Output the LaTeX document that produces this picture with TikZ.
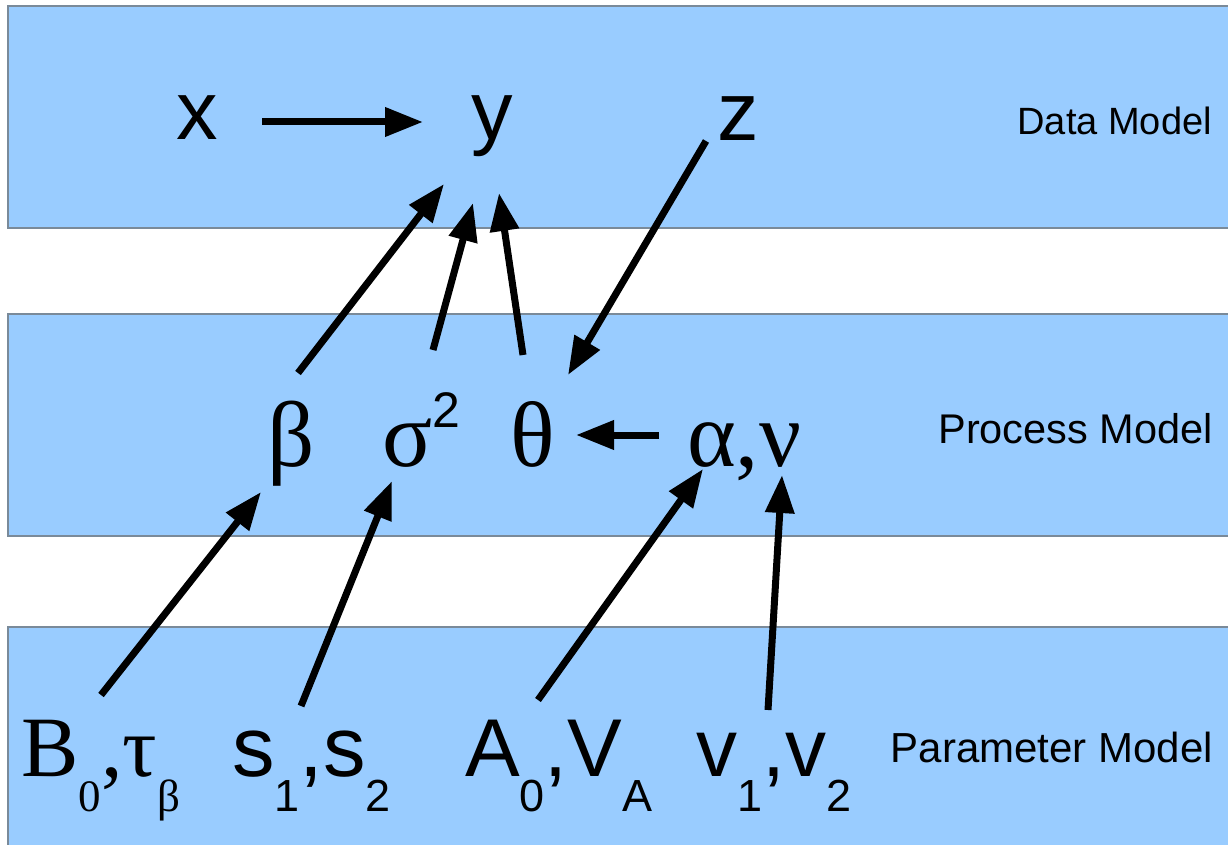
\documentclass[tikz,border=0pt]{standalone}
\usepackage{fontspec}
\setmainfont{Liberation Serif}
\setsansfont{Liberation Sans}
\usetikzlibrary{arrows.meta}
\definecolor{bandblue}{HTML}{99CCFF}
\definecolor{bandline}{HTML}{7A8A99}
\newcommand{\lowsub}[1]{\raisebox{-35pt}{\fontsize{45}{50}\selectfont #1}}
\newcommand{\hisup}[1]{\raisebox{39pt}{\fontsize{50}{56}\selectfont\sffamily #1}}
\tikzset{
  bandbox/.style={fill=bandblue, draw=bandline, line width=1.2pt},
  sanstxt/.style={font=\sffamily\fontsize{83}{90}\selectfont, inner sep=0pt, anchor=base},
  greektxt/.style={font=\rmfamily\fontsize{93}{100}\selectfont, inner sep=0pt, anchor=base},
  paramtxt/.style={font=\fontsize{84}{90}\selectfont, inner sep=0pt, anchor=base west},
  lbl/.style={font=\sffamily\fontsize{41.5}{48}\selectfont, inner sep=0pt, anchor=base east},
  arr/.style={line width=7pt, -{Triangle[length=38pt,width=28pt]}},
}
\begin{document}
\begin{tikzpicture}[x=1pt,y=-1pt]
\useasboundingbox (0,0) rectangle (1228,845);
\clip (0,0) rectangle (1228,845);
% bands
\path[bandbox] (8,6) rectangle (1240,228);
\path[bandbox] (8,314) rectangle (1240,536);
\path[bandbox] (8,627) rectangle (1240,860);
% labels
\node[lbl, font=\sffamily\fontsize{38}{44}\selectfont] (data) at (1212,135) {Data Model};
\node[lbl] (process) at (1213,443) {Process Model};
\node[lbl, font=\sffamily\fontsize{42}{48}\selectfont] (param) at (1213,762) {Parameter Model};
% data row
\node[sanstxt] (x) at (197,140) {x};
\node[sanstxt] (y) at (492,140) {y};
\node[sanstxt] (z) at (738,141) {z};
% process row
\node[greektxt] (beta) at (291,466) {β};
\node[greektxt, anchor=base west] (sigma) at (382,466) {σ\hisup{2}};
\node[greektxt] (theta) at (533,466) {θ};
\node[greektxt, anchor=base west] (alnu) at (687,466) {α,ν};
% parameter row
\node[paramtxt, font=\rmfamily\fontsize{86}{90}\selectfont] (B) at (21,776) {B\lowsub{0},τ\lowsub{β}};
\node[paramtxt, font=\sffamily\fontsize{85}{90}\selectfont] (s) at (232,776) {s\lowsub{1},s\lowsub{2}};
\node[paramtxt, font=\sffamily\fontsize{82}{90}\selectfont] (A) at (465,776) {A\lowsub{0},V\lowsub{A}};
\node[paramtxt, font=\sffamily\fontsize{82}{90}\selectfont] (v) at (696,776) {v\lowsub{1},v\lowsub{2}};
% connector ends
\coordinate (x-o) at (262,122);
\coordinate (y-i1) at (423,122);
\coordinate (beta-o) at (298,373);
\coordinate (y-i2) at (444,184);
\coordinate (sigma-o) at (433,350);
\coordinate (y-i3) at (473,203);
\coordinate (theta-o) at (523,355);
\coordinate (y-i4) at (499,193);
\coordinate (z-o) at (706,141);
\coordinate (theta-i1) at (568,375);
\coordinate (alnu-o) at (659,435);
\coordinate (theta-i2) at (576,435);
\coordinate (B-o) at (101,695);
\coordinate (beta-i) at (261,492);
\coordinate (s-o) at (301,706);
\coordinate (sigma-i) at (392,481);
\coordinate (A-o) at (538,700);
\coordinate (alpha-i) at (703,469);
\coordinate (v-o) at (768,710);
\coordinate (nu-i) at (782,475);
% connectors
\draw[arr] (x-o) -- (y-i1);
\draw[arr] (beta-o) -- (y-i2);
\draw[arr] (sigma-o) -- (y-i3);
\draw[arr] (theta-o) -- (y-i4);
\draw[arr] (z-o) -- (theta-i1);
\draw[arr] (alnu-o) -- (theta-i2);
\draw[arr] (B-o) -- (beta-i);
\draw[arr] (s-o) -- (sigma-i);
\draw[arr] (A-o) -- (alpha-i);
\draw[arr] (v-o) -- (nu-i);
\end{tikzpicture}
\end{document}
